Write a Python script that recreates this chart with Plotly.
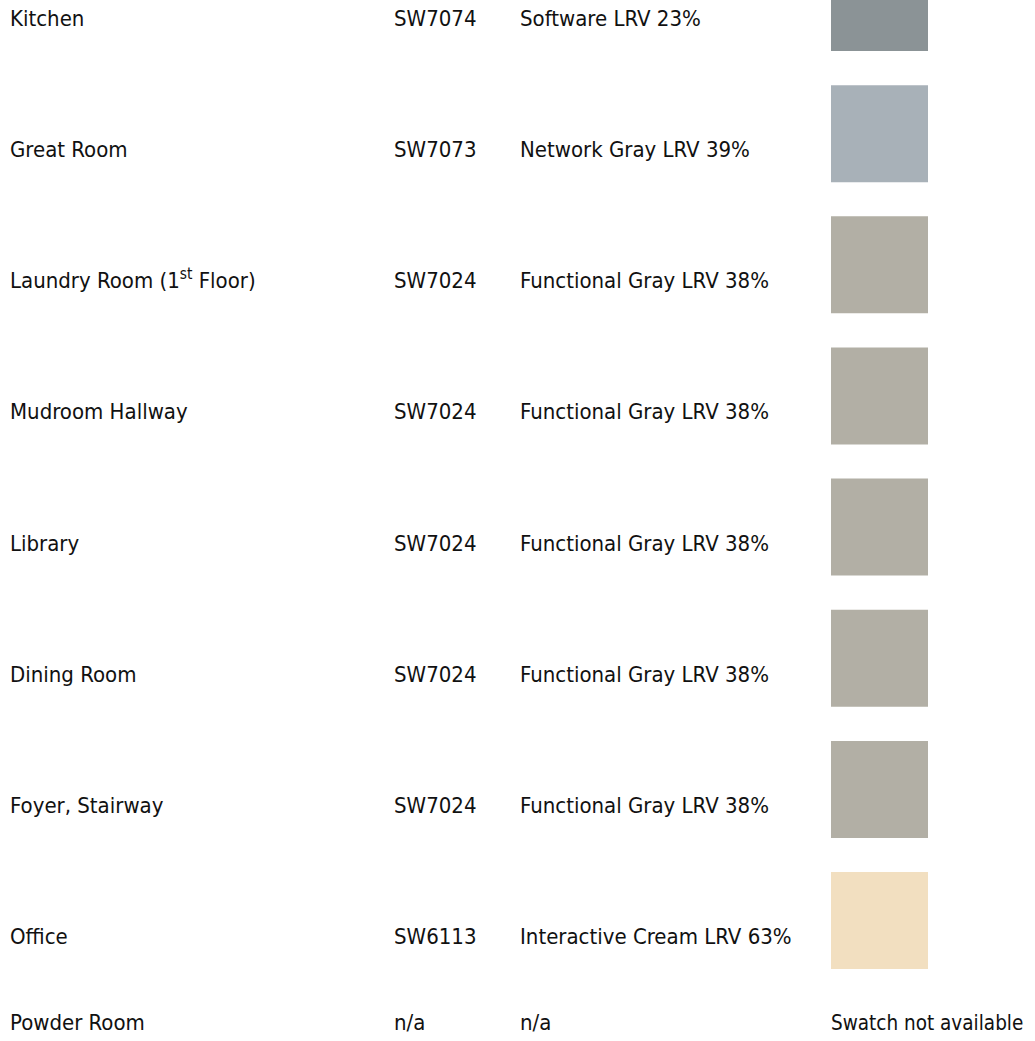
import plotly.graph_objects as go

rooms = ["Kitchen", "Great Room", "Laundry Room (1<sup>st</sup> Floor)", "Mudroom Hallway",
         "Library", "Dining Room", "Foyer, Stairway", "Office", "Powder Room"]
codes = ["SW7074", "SW7073", "SW7024", "SW7024", "SW7024", "SW7024", "SW7024", "SW6113", "n/a"]
names = ["Software LRV 23%", "Network Gray LRV 39%", "Functional Gray LRV 38%",
         "Functional Gray LRV 38%", "Functional Gray LRV 38%", "Functional Gray LRV 38%",
         "Functional Gray LRV 38%", "Interactive Cream LRV 63%", "n/a"]
swatch_colors = ["#8b9396", "#a8b1b8", "#b2afa5", "#b2afa5", "#b2afa5", "#b2afa5",
                 "#b2afa5", "#f2dfc0", None]
missing_label = "Swatch not available"

W, H = 1035, 1041
FONT = "DejaVu Sans Condensed, Liberation Sans Narrow, sans-serif"
FS = 22
FS_MISSING = 20.5
STEP = 131.15
FIRST_SWATCH = 2.5
TEXT_OFF = 18
LAST_GAP = 86

# compute row positions
swatch_y = []
text_y = []
for i, c in enumerate(swatch_colors):
    if c is not None:
        sy = FIRST_SWATCH + STEP * i
        swatch_y.append(sy)
        text_y.append(sy + TEXT_OFF)
    else:
        swatch_y.append(None)
        text_y.append(text_y[-1] + LAST_GAP)

col_x = [10, 394, 520, 831]
SW = 97

fig = go.Figure()

for cx, col in zip(col_x[:3], [rooms, codes, names]):
    fig.add_trace(go.Scatter(
        x=[cx] * len(col), y=text_y, mode="text", text=col,
        textposition="middle right",
        textfont=dict(family=FONT, size=FS, color="#111111"),
        hoverinfo="skip", showlegend=False, cliponaxis=False))

sx = [col_x[3] + SW / 2 for c in swatch_colors if c is not None]
sy = [s for s, c in zip(swatch_y, swatch_colors) if c is not None]
sc = [c for c in swatch_colors if c is not None]
fig.add_trace(go.Scatter(
    x=sx, y=sy, mode="markers",
    marker=dict(symbol="square", size=SW, color=sc, line=dict(width=0)),
    hoverinfo="skip", showlegend=False, cliponaxis=True))

mx = [col_x[3] for c in swatch_colors if c is None]
my = [t for t, c in zip(text_y, swatch_colors) if c is None]
fig.add_trace(go.Scatter(
    x=mx, y=my, mode="text", text=[missing_label] * len(mx),
    textposition="middle right",
    textfont=dict(family=FONT, size=FS_MISSING, color="#111111"),
    hoverinfo="skip", showlegend=False, cliponaxis=False))

fig.update_layout(
    width=W, height=H, margin=dict(l=0, r=0, t=0, b=0),
    paper_bgcolor="white", plot_bgcolor="white",
    xaxis=dict(range=[0, W], visible=False, fixedrange=True),
    yaxis=dict(range=[H, 0], visible=False, fixedrange=True),
)

fig.write_html("out.html", config={"displayModeBar": False},
               post_script="document.body.style.margin='0';document.body.style.overflow='hidden';")
